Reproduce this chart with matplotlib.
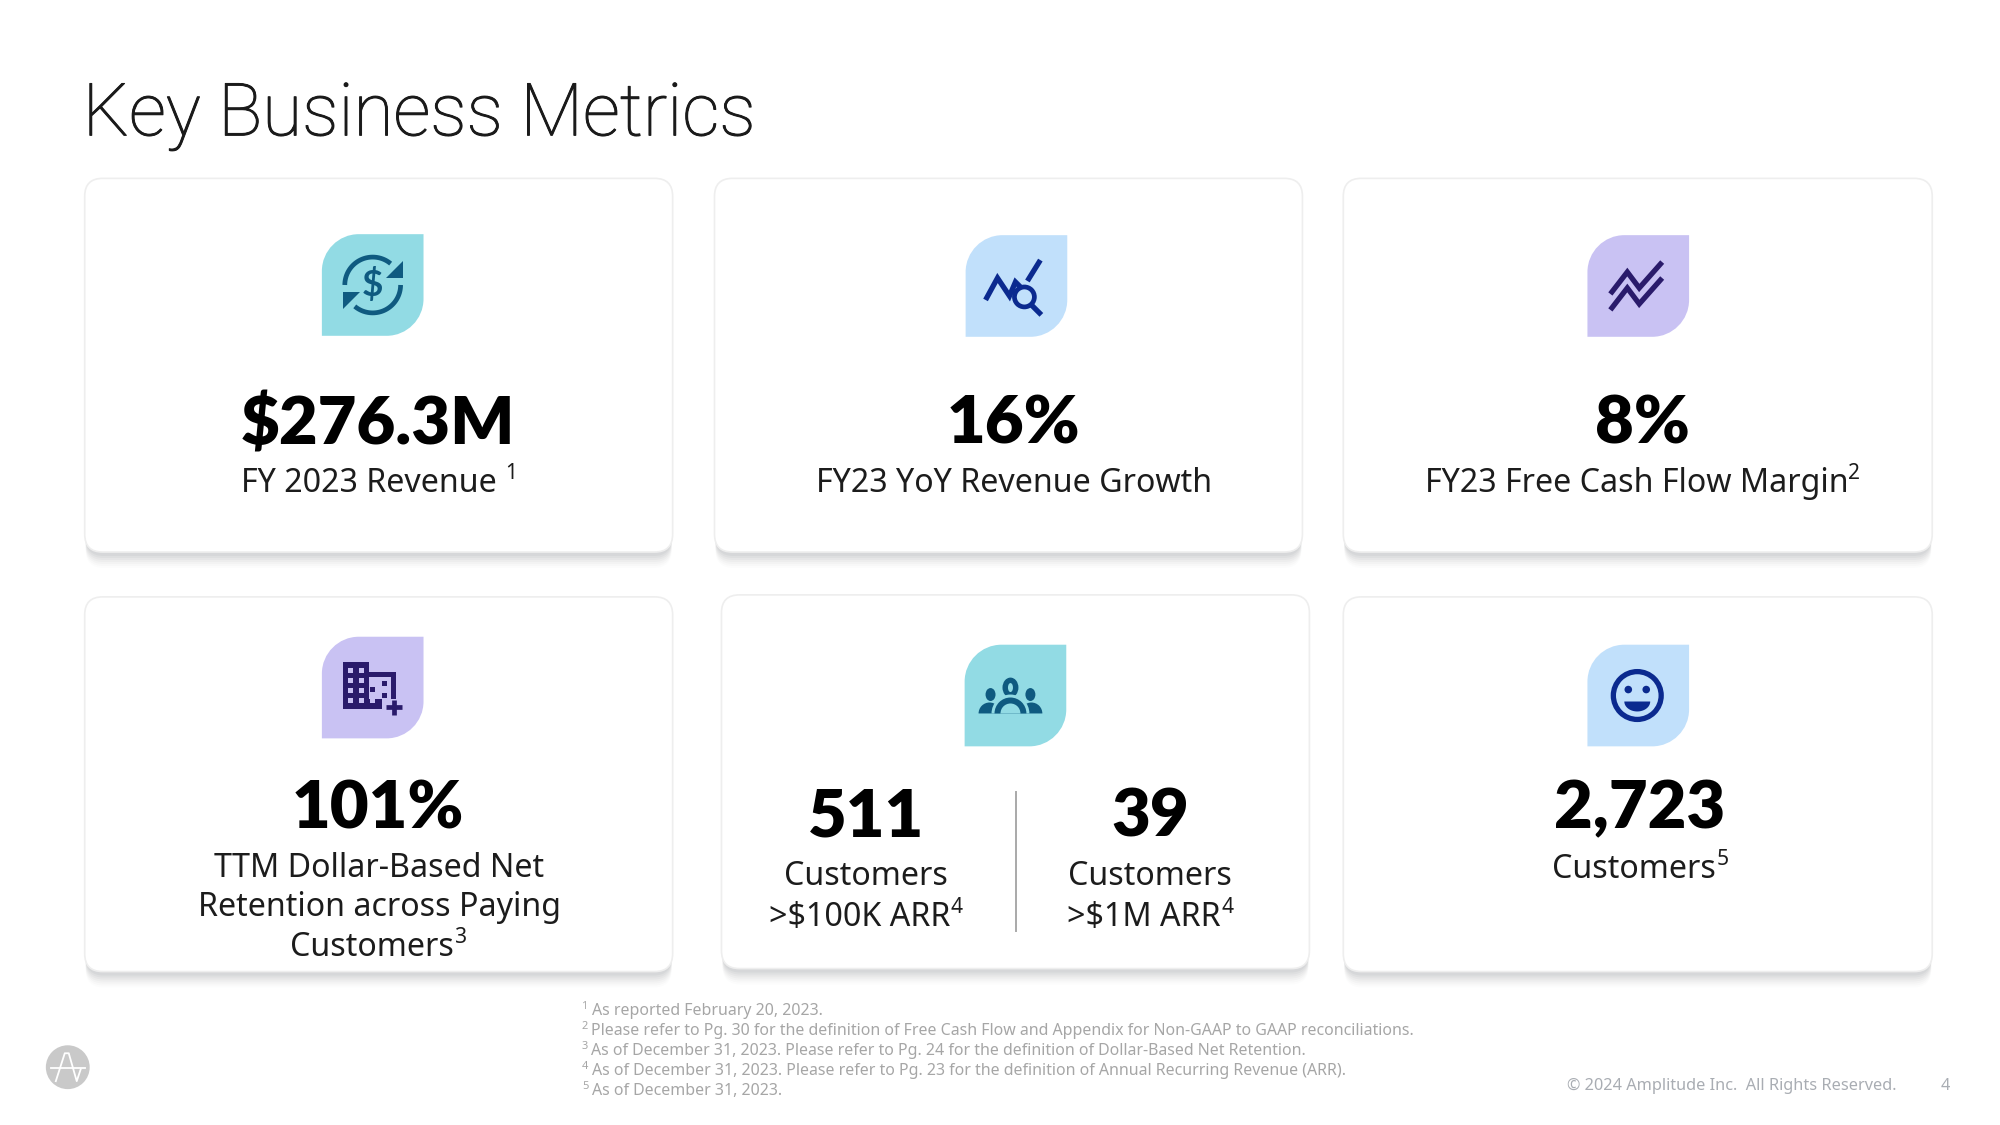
import numpy as np
import matplotlib
matplotlib.use("Agg")
import matplotlib.pyplot as plt
import matplotlib.patheffects as pe
from matplotlib.patches import FancyBboxPatch, PathPatch, Circle, Rectangle, Wedge, Polygon, Ellipse
from matplotlib.path import Path

# Content
title = "Key Business Metrics"
metric_values = ["$276.3M", "16%", "8%", "101%", "511", "39", "2,723"]
metric_labels = [
    [("FY 2023 Revenue ", "1")],
    [("FY23 YoY Revenue Growth", "")],
    [("FY23 Free Cash Flow Margin", "2")],
    [("TTM Dollar-Based Net", ""), ("Retention across Paying", ""), ("Customers", "3")],
    [("Customers", ""), (">$100K ARR", "4")],
    [("Customers", ""), (">$1M ARR", "4")],
    [("Customers", "5")],
]
footnote_marks = ["1", "2", "3", "4", "5"]
footnotes = [
    "As reported February 20, 2023.",
    "Please refer to Pg. 30 for the definition of Free Cash Flow and Appendix for Non-GAAP to GAAP reconciliations.",
    "As of December 31, 2023. Please refer to Pg. 24 for the definition of Dollar-Based Net Retention.",
    "As of December 31, 2023. Please refer to Pg. 23 for the definition of Annual Recurring Revenue (ARR).",
    "As of December 31, 2023.",
]
copyright_text = "© 2024 Amplitude Inc.  All Rights Reserved."
page_number = "4"

# Layout in pixels (read at 1.28x, hence the slightly wider axis limits below)
cards = [(85, 179, 675, 554), (717, 179, 1307, 554), (1348, 179, 1939, 554),
         (85, 599, 675, 975), (724, 597, 1314, 972), (1348, 599, 1939, 975)]
icons = [(323, 235), (969, 236), (1593, 236), (323, 639), (968, 647), (1593, 647)]
icon_size = 102
value_pos = [(379, 426), (1017, 426), (1648, 426), (379, 812), (869, 820), (1154, 820), (1645, 812)]
label_pos = [(380, [485]), (1017, [485]), (1648, [485]), (380, [872, 911, 951]),
             (869, [880, 921]), (1154, [880, 921]), (1646, [873])]

TEAL, BLUE, LAVENDER = "#92DBE4", "#C1E0FB", "#C9C2F3"
INK_TEAL, INK_BLUE, INK_PURPLE = "#0F5A80", "#0B2A8F", "#2A1B6B"
BODY = "Noto Sans"
HEAD = "Lato"

fig = plt.figure(figsize=(20, 11.25), dpi=100)
ax = fig.add_axes([0, 0, 1, 1])
ax.set_xlim(0, 2007)
ax.set_ylim(1129, 0)
ax.axis("off")


def px(size):
    return size * 0.72


def draw_card(x0, y0, x1, y1):
    for off, alpha in [(16, 0.02), (14, 0.03), (12, 0.04), (10, 0.05), (8, 0.06), (6, 0.07), (4, 0.08)]:
        ax.add_patch(FancyBboxPatch((x0 + 1, y0 + off), x1 - x0 - 2, y1 - y0,
                                    boxstyle="round,pad=0,rounding_size=18",
                                    fc="#7f8489", ec="none", alpha=alpha, zorder=1))
    ax.add_patch(FancyBboxPatch((x0, y0), x1 - x0, y1 - y0,
                                boxstyle="round,pad=0,rounding_size=18",
                                fc="white", ec="#eeeeee", lw=1.2, zorder=2))


def draw_leaf(x, y, color):
    # two round corners, two square ones
    s = icon_size
    r = 37
    k = 0.45 * r
    verts = [(x + r, y), (x + s, y), (x + s, y + s - r),
             (x + s, y + s - k), (x + s - k, y + s), (x + s - r, y + s),
             (x, y + s), (x, y + r),
             (x, y + k), (x + k, y), (x + r, y), (x + r, y)]
    codes = [Path.MOVETO, Path.LINETO, Path.LINETO,
             Path.CURVE4, Path.CURVE4, Path.CURVE4,
             Path.LINETO, Path.LINETO,
             Path.CURVE4, Path.CURVE4, Path.CURVE4, Path.CLOSEPOLY]
    ax.add_patch(PathPatch(Path(verts, codes), fc=color, ec="none", zorder=3))


def stroke(xs, ys, color, lw=4.0):
    ax.plot(xs, ys, color=color, lw=lw, solid_capstyle="butt", solid_joinstyle="miter", zorder=4)


def icon_money(x, y):
    cx, cy = x + 51, y + 51
    for a0, a1 in [(180, 50), (0, -130)]:
        t = np.radians(np.linspace(a0, a1, 40))
        stroke(cx + 28 * np.cos(t), cy - 28 * np.sin(t), INK_TEAL, 3.4)
    ax.add_patch(Polygon([(cx + 30, cy - 24), (cx + 30, cy - 7), (cx + 13, cy - 7)], fc=INK_TEAL, zorder=4))
    ax.add_patch(Polygon([(cx - 30, cy + 24), (cx - 30, cy + 7), (cx - 13, cy + 7)], fc=INK_TEAL, zorder=4))
    ax.text(cx, cy, "$", color=INK_TEAL, fontsize=px(37), fontfamily=HEAD, fontweight="bold",
            ha="center", va="center", zorder=4)


def icon_search(x, y):
    stroke([x + 20, x + 32, x + 44, x + 50, x + 56], [y + 65, y + 43, y + 61, y + 47, y + 53], INK_BLUE, 3.8)
    stroke([x + 62, x + 75], [y + 46, y + 25], INK_BLUE, 3.8)
    ax.add_patch(Circle((x + 59, y + 62), 10, fc="none", ec=INK_BLUE, lw=3.4, zorder=4))
    stroke([x + 66, x + 76], [y + 70, y + 80], INK_BLUE, 3.8)


def icon_zigzag(x, y):
    for dy in (3, 19):
        stroke([x + 23, x + 40, x + 52, x + 75], [y + 56 + dy, y + 34 + dy, y + 50 + dy, y + 24 + dy], INK_PURPLE, 3.8)


def icon_building(x, y):
    ax.add_patch(Polygon([(x + 21, y + 25), (x + 47, y + 25), (x + 47, y + 35), (x + 74, y + 35), (x + 74, y + 62),
                          (x + 60, y + 62), (x + 60, y + 73), (x + 21, y + 73)], fc=INK_PURPLE, zorder=4))
    ax.add_patch(Rectangle((x + 47, y + 40), 22, 22, fc=LAVENDER, ec="none", zorder=4))
    for c in range(3):
        for r in range(4):
            if c == 2 and r < 1:
                continue
            ax.add_patch(Rectangle((x + 26 + c * 11, y + 31 + r * 10), 5, 5, fc=LAVENDER, ec="none", zorder=5))
    for sx, sy in [(x + 60, y + 44), (x + 60, y + 56), (x + 48, y + 50)]:
        ax.add_patch(Rectangle((sx, sy), 5, 5, fc=INK_PURPLE, ec="none", zorder=5))
    stroke([x + 64, x + 80], [y + 71, y + 71], INK_PURPLE, 3.4)
    stroke([x + 72, x + 72], [y + 63, y + 79], INK_PURPLE, 3.4)


def icon_people(x, y):
    cx = x + 46
    ax.add_patch(Ellipse((cx, y + 43), 16, 20, fc=INK_TEAL, zorder=4))
    ax.add_patch(Ellipse((cx, y + 43), 5, 9, fc=TEAL, zorder=5))
    for sx in (-1, 1):
        ax.add_patch(Ellipse((cx + sx * 20, y + 50), 10, 13, fc=INK_TEAL, zorder=4))
        ax.add_patch(Wedge((cx + sx * 21, y + 69), 11, 180, 360, fc=INK_TEAL, zorder=4))
    ax.add_patch(Wedge((cx, y + 69), 19, 180, 360, fc=TEAL, ec="none", zorder=5))
    ax.add_patch(Wedge((cx, y + 69), 16, 180, 360, fc=INK_TEAL, ec="none", zorder=5))
    ax.add_patch(Wedge((cx, y + 69), 10, 180, 360, fc=TEAL, ec="none", zorder=5))


def icon_smile(x, y):
    cx, cy = x + 50, y + 51
    ax.add_patch(Circle((cx, cy), 24, fc="none", ec=INK_BLUE, lw=3.8, zorder=4))
    ax.add_patch(Circle((cx - 9, cy - 6), 3.8, fc=INK_BLUE, zorder=4))
    ax.add_patch(Circle((cx + 9, cy - 6), 3.8, fc=INK_BLUE, zorder=4))
    t = np.radians(np.linspace(0, 180, 30))
    ax.add_patch(Polygon(np.column_stack([cx + 13 * np.cos(t), cy + 6 + 10 * np.sin(t)]), fc=INK_BLUE, zorder=4))


icon_colors = [TEAL, BLUE, LAVENDER, LAVENDER, TEAL, BLUE]
icon_funcs = [icon_money, icon_search, icon_zigzag, icon_building, icon_people, icon_smile]

for c in cards:
    draw_card(*c)
for (ix, iy), col, fn in zip(icons, icon_colors, icon_funcs):
    draw_leaf(ix, iy, col)
    fn(ix, iy)

fig.canvas.draw()
renderer = fig.canvas.get_renderer()


def label_line(cx, y, text, sup):
    # text and superscript are centred together, so measure both first
    t = ax.text(cx, y, text, fontsize=px(32.2), fontfamily=BODY, color="#1c1c1c", ha="left", va="center", zorder=6)
    w = t.get_window_extent(renderer).width
    s = None
    sw = 0
    if sup:
        s = ax.text(cx, y - 10, sup, fontsize=px(21), fontfamily=BODY, color="#1c1c1c", ha="left", va="center", zorder=6)
        sw = s.get_window_extent(renderer).width + 1
    x0 = cx - (w + sw) / 2
    t.set_x(x0)
    if s is not None:
        s.set_x(x0 + w + 1)


title_text = ax.text(83, 117, title, fontsize=px(73), fontfamily="Roboto", fontweight="light", color="#1a1a1a",
                     ha="left", va="center", zorder=6)
# Roboto Light is a bit thinner than the original face
title_text.set_path_effects([pe.withStroke(linewidth=0.7, foreground="#1a1a1a")])

for val, (vx, vy) in zip(metric_values, value_pos):
    ax.text(vx, vy, val, fontsize=px(67), fontfamily=HEAD, fontweight="heavy", color="black",
            ha="center", va="center", zorder=6)

for lines, (lx, ys) in zip(metric_labels, label_pos):
    for (text, sup), ly in zip(lines, ys):
        label_line(lx, ly, text, sup)

ax.plot([1020, 1020], [795, 934], color="#a9a9a9", lw=1.4, zorder=6)

note_ys = [1015, 1035, 1055, 1075, 1095]
note_xs = [594, 593, 593, 594, 594]
for mark, note, nx, ny in zip(footnote_marks, footnotes, note_xs, note_ys):
    ax.text(584, ny - 5, mark, fontsize=px(11), fontfamily=BODY, color="#a6a6a6", ha="left", va="center", zorder=6)
    ax.text(nx, ny, note, fontsize=px(15.95), fontfamily=BODY, color="#a6a6a6", ha="left", va="center", zorder=6)

ax.text(1903, 1090, copyright_text, fontsize=px(16.3), fontfamily=BODY, color="#a9adb3", ha="right", va="center", zorder=6)
ax.text(1952, 1090, page_number, fontsize=px(16.3), fontfamily=BODY, color="#a9adb3", ha="center", va="center", zorder=6)

# Logo
lx, ly = 68, 1071
ax.add_patch(Circle((lx, ly), 22, fc="#c9c9c9", ec="none", zorder=4))
ax.plot([lx - 12, lx - 3, lx + 1, lx + 9, lx + 13], [ly + 14, ly - 14, ly - 14, ly + 14, ly + 2], color="white", lw=1.3, zorder=5)
ax.plot([lx - 17, lx + 17], [ly + 1, ly + 1], color="white", lw=1.3, zorder=5)

fig.savefig("out.png", dpi=100, facecolor="white")
